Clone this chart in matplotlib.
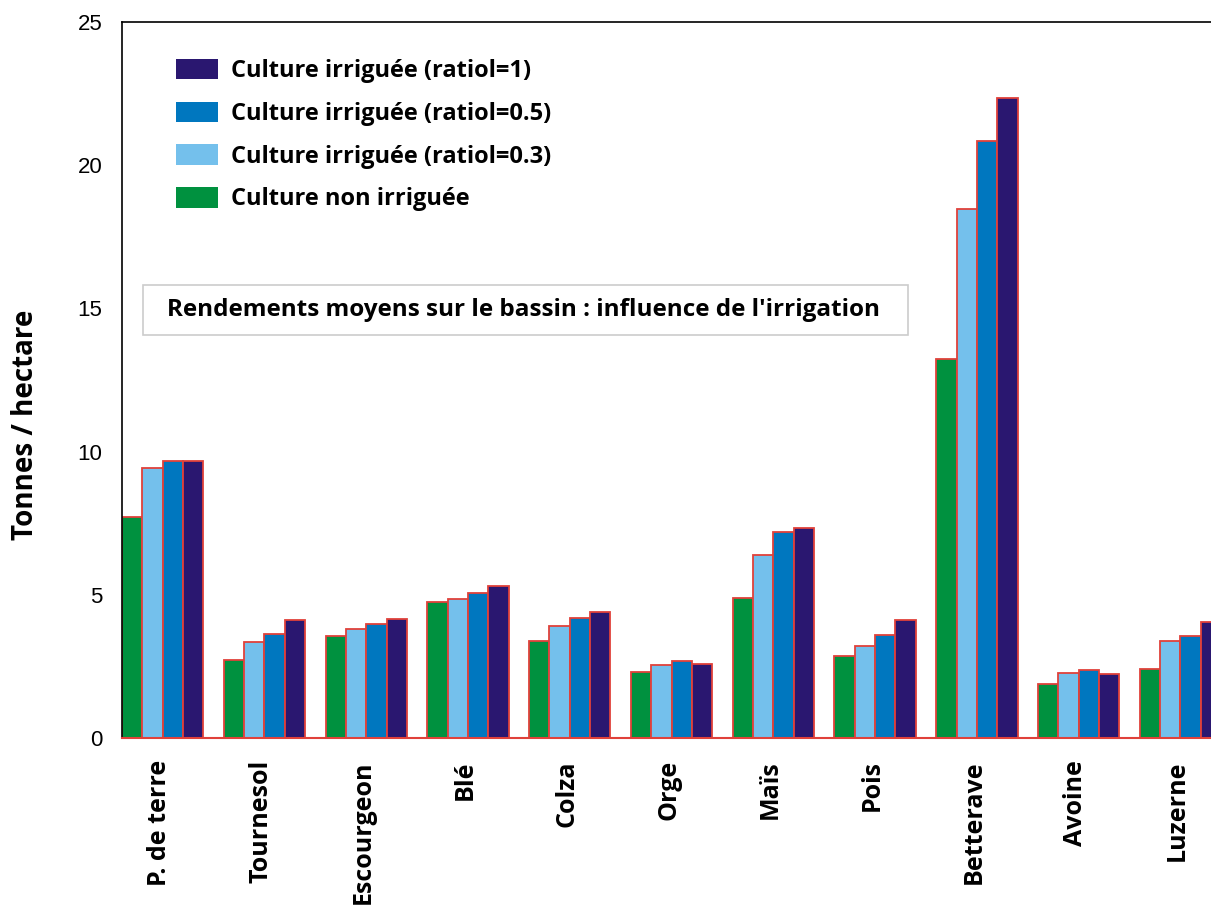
import numpy as np
import matplotlib
matplotlib.use("Agg")
import matplotlib.pyplot as plt
from matplotlib.patches import Patch, Rectangle

# data (tonnes / hectare)
cultures = ["P. de terre", "Tournesol", "Escourgeon", "Blé", "Colza", "Orge",
            "Maïs", "Pois", "Betterave", "Avoine", "Luzerne"]
non_irriguee = [7.73, 2.72, 3.56, 4.76, 3.40, 2.32, 4.88, 2.87, 13.25, 1.87, 2.40]
ratio_03 = [9.42, 3.36, 3.82, 4.84, 3.92, 2.55, 6.39, 3.21, 18.48, 2.28, 3.37]
ratio_05 = [9.68, 3.63, 3.98, 5.07, 4.18, 2.70, 7.18, 3.60, 20.83, 2.37, 3.55]
ratio_1 = [9.68, 4.12, 4.14, 5.32, 4.39, 2.58, 7.32, 4.12, 22.33, 2.25, 4.04]

series = [non_irriguee, ratio_03, ratio_05, ratio_1]
colors = ["#00913F", "#74C0EC", "#0077BF", "#2A1770"]
labels = ["Culture non irriguée", "Culture irriguée (ratiol=0.3)",
          "Culture irriguée (ratiol=0.5)", "Culture irriguée (ratiol=1)"]

bold_font = "Open Sans"

fig = plt.figure(figsize=(12.11, 9.17), dpi=100)
ax = fig.add_axes([0.1007, 0.1952, 0.8993, 0.7808])

x = np.arange(len(cultures))
w = 0.2
for k, vals in enumerate(series):
    ax.bar(x + (k - 1.5) * w, vals, width=w, color=colors[k],
           edgecolor="#E0413A", linewidth=1.3, zorder=2)

ax.set_xlim(-0.4, 10.3)
ax.set_ylim(0, 25)
ax.set_yticks([0, 5, 10, 15, 20, 25])
ax.set_yticklabels(["0", "5", "10", "15", "20", "25"], family="Liberation Sans")
ax.tick_params(axis="y", length=0, pad=14, labelsize=16)
ax.tick_params(axis="x", length=0, pad=16)
ax.set_xticks(x - 0.03)
ax.set_xticklabels(cultures, rotation=90, fontsize=18, fontweight="bold",
                   family=bold_font, va="top")

for s in ["left", "top"]:
    ax.spines[s].set_color("black")
    ax.spines[s].set_linewidth(1.2)
ax.spines["right"].set_visible(False)
ax.spines["bottom"].set_color("#E0413A")
ax.spines["bottom"].set_linewidth(1.5)

ax.set_ylabel("Tonnes / hectare", fontsize=20, fontweight="bold", family=bold_font)
ax.yaxis.set_label_coords(-0.089, 0.437)
ax.yaxis.label.set_va("center")

# legend, top entry = strongest irrigation
handles = [Patch(facecolor=colors[k], edgecolor="none", label=labels[k])
           for k in [3, 2, 1, 0]]
leg = ax.legend(handles=handles, loc="upper left", bbox_to_anchor=(0.03, 0.978),
                frameon=False, handlelength=1.78, handleheight=0.95,
                labelspacing=0.78, handletextpad=0.55,
                prop={"family": bold_font, "weight": "bold", "size": 17})

# title box
ax.add_patch(Rectangle((0.0193, 0.5628), 0.7025, 0.0699, transform=ax.transAxes,
                       facecolor="white", edgecolor="#CCCCCC", linewidth=1.2,
                       zorder=3))
ax.text(0.0413, 0.5978, "Rendements moyens sur le bassin : influence de l'irrigation",
        transform=ax.transAxes, fontsize=17.5, fontweight="bold", family=bold_font,
        va="center", ha="left", zorder=4)

fig.savefig("out.png", dpi=100)
